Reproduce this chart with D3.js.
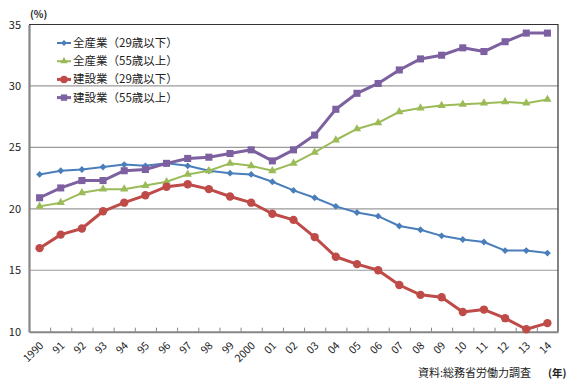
<!DOCTYPE html>
<html lang="ja">
<head>
<meta charset="utf-8">
<title>若年層・高齢層の就業者比率</title>
<script src="https://d3js.org/d3.v7.min.js"></script>
<style>
  body { margin: 0; background: #fff; }
  text { font-family: "Noto Sans CJK JP", "Open Sans", sans-serif; fill: #222; }
</style>
</head>
<body>
<div id="chart"></div>
<script>
// data
var years = ["1990","91","92","93","94","95","96","97","98","99","2000","01","02","03","04","05","06","07","08","09","10","11","12","13","14"];
var allUnder29 = [22.8,23.1,23.2,23.4,23.6,23.5,23.7,23.5,23.1,22.9,22.8,22.2,21.5,20.9,20.2,19.7,19.4,18.6,18.3,17.8,17.5,17.3,16.6,16.6,16.4];
var allOver55  = [20.2,20.5,21.3,21.6,21.6,21.9,22.2,22.8,23.1,23.7,23.5,23.1,23.7,24.6,25.6,26.5,27.0,27.9,28.2,28.4,28.5,28.6,28.7,28.6,28.9];
var conUnder29 = [16.8,17.9,18.4,19.8,20.5,21.1,21.8,22.0,21.6,21.0,20.5,19.6,19.1,17.7,16.1,15.5,15.0,13.8,13.0,12.8,11.6,11.8,11.1,10.2,10.7];
var conOver55  = [20.9,21.7,22.3,22.3,23.1,23.2,23.7,24.1,24.2,24.5,24.8,23.9,24.8,26.0,28.1,29.4,30.2,31.3,32.2,32.5,33.1,32.8,33.6,34.3,34.3];
var seriesNames = ["全産業（29歳以下）","全産業（55歳以上）","建設業（29歳以下）","建設業（55歳以上）"];
var yTicks = [10,15,20,25,30,35];

var w = 577, h = 387;
var margin = { top: 24.5, right: 19, bottom: 55.3, left: 29 };
var width = w - margin.left - margin.right, height = h - margin.top - margin.bottom;

var series = [
  { name: seriesNames[0], values: allUnder29, color: "#4A7EBB", lw: 2,   symbol: d3.symbolDiamond2, size: 30 },
  { name: seriesNames[1], values: allOver55,  color: "#9BBB59", lw: 2,   symbol: d3.symbolTriangle, size: 30 },
  { name: seriesNames[2], values: conUnder29, color: "#BE4B48", lw: 3,   symbol: d3.symbolCircle,   size: 55 },
  { name: seriesNames[3], values: conOver55,  color: "#7D60A0", lw: 3,   symbol: d3.symbolSquare,   size: 50 }
];

var svg = d3.select("#chart").append("svg")
  .attr("width", w).attr("height", h);
var g = svg.append("g").attr("transform", `translate(${margin.left},${margin.top})`);

var x = d3.scaleBand().domain(years).range([0, width]);
var y = d3.scaleLinear().domain([10, 35]).range([height, 0]);
var xc = d => x(d) + x.bandwidth() / 2;

// gridlines
g.append("g").selectAll("line")
  .data(yTicks.filter(t => t > 10 && t < 35))
  .join("line")
  .attr("x1", 0).attr("x2", width)
  .attr("y1", d => y(d)).attr("y2", d => y(d))
  .attr("stroke", "#9a9a9a").attr("stroke-width", 1.2);

// plot border (top and right)
g.append("path")
  .attr("d", `M0,${y(35)}H${width}V${height}`)
  .attr("fill", "none").attr("stroke", "#333").attr("stroke-width", 1.2);

// y axis
var yAxis = g.append("g")
  .call(d3.axisLeft(y).tickValues(yTicks).tickSize(0).tickPadding(8));
yAxis.select(".domain").attr("stroke", "#868686").attr("stroke-width", 2.2);
yAxis.selectAll("text").attr("font-size", 11).attr("font-family", "'Open Sans', sans-serif").attr("fill", "#222");

// x axis: boundary ticks
var xb = d3.scaleLinear().domain([0, years.length]).range([0, width]);
var xTicks = g.append("g").attr("transform", `translate(0,${height})`)
  .call(d3.axisBottom(xb).ticks(years.length).tickSizeInner(-4).tickSizeOuter(0).tickFormat(""));
xTicks.select(".domain").attr("stroke", "#868686").attr("stroke-width", 2);
xTicks.selectAll("line").attr("stroke", "#868686");

// x axis labels
var xAxis = g.append("g").attr("transform", `translate(0,${height})`)
  .call(d3.axisBottom(x).tickSize(0).tickPadding(0));
xAxis.select(".domain").remove();
xAxis.selectAll("text")
  .attr("font-size", 10.5).attr("font-family", "'Open Sans', sans-serif").attr("fill", "#222")
  .attr("text-anchor", "end")
  .attr("dy", "0.35em")
  .attr("transform", "translate(2,12) rotate(-45)");

// lines and markers
var line = d3.line().x((d, i) => xc(years[i])).y(d => y(d));
series.forEach(function(s) {
  g.append("path")
    .datum(s.values)
    .attr("d", line)
    .attr("fill", "none")
    .attr("stroke", s.color)
    .attr("stroke-width", s.lw)
    .attr("stroke-linejoin", "round");
  g.append("g").selectAll("path")
    .data(s.values)
    .join("path")
    .attr("transform", (d, i) => `translate(${xc(years[i])},${y(d)})`)
    .attr("d", d3.symbol().type(s.symbol).size(s.size))
    .attr("fill", s.color);
});

// legend
var legend = svg.append("g").attr("transform", "translate(57,43)");
var rows = legend.selectAll("g").data(series).join("g")
  .attr("transform", (d, i) => `translate(0,${i * 18.2})`);
rows.append("line")
  .attr("x1", 0).attr("x2", 14).attr("y1", 0).attr("y2", 0)
  .attr("stroke", d => d.color).attr("stroke-width", d => d.lw);
rows.append("path")
  .attr("transform", "translate(7,0)")
  .attr("d", d => d3.symbol().type(d.symbol).size(d.size * 0.8)())
  .attr("fill", d => d.color);
rows.append("text")
  .attr("x", 16).attr("y", 0).attr("dy", "0.35em")
  .attr("font-size", 11.5)
  .text(d => d.name);

// unit labels and source
svg.append("text").attr("x", 30).attr("y", 18).attr("font-size", 10).attr("font-weight", "bold").text("(%)");
svg.append("text").attr("x", 548).attr("y", 377).attr("font-size", 10.5).attr("font-weight", "bold").text("(年)");
svg.append("text").attr("x", 418).attr("y", 377).attr("font-size", 11).text("資料:総務省労働力調査");
</script>
</body>
</html>
